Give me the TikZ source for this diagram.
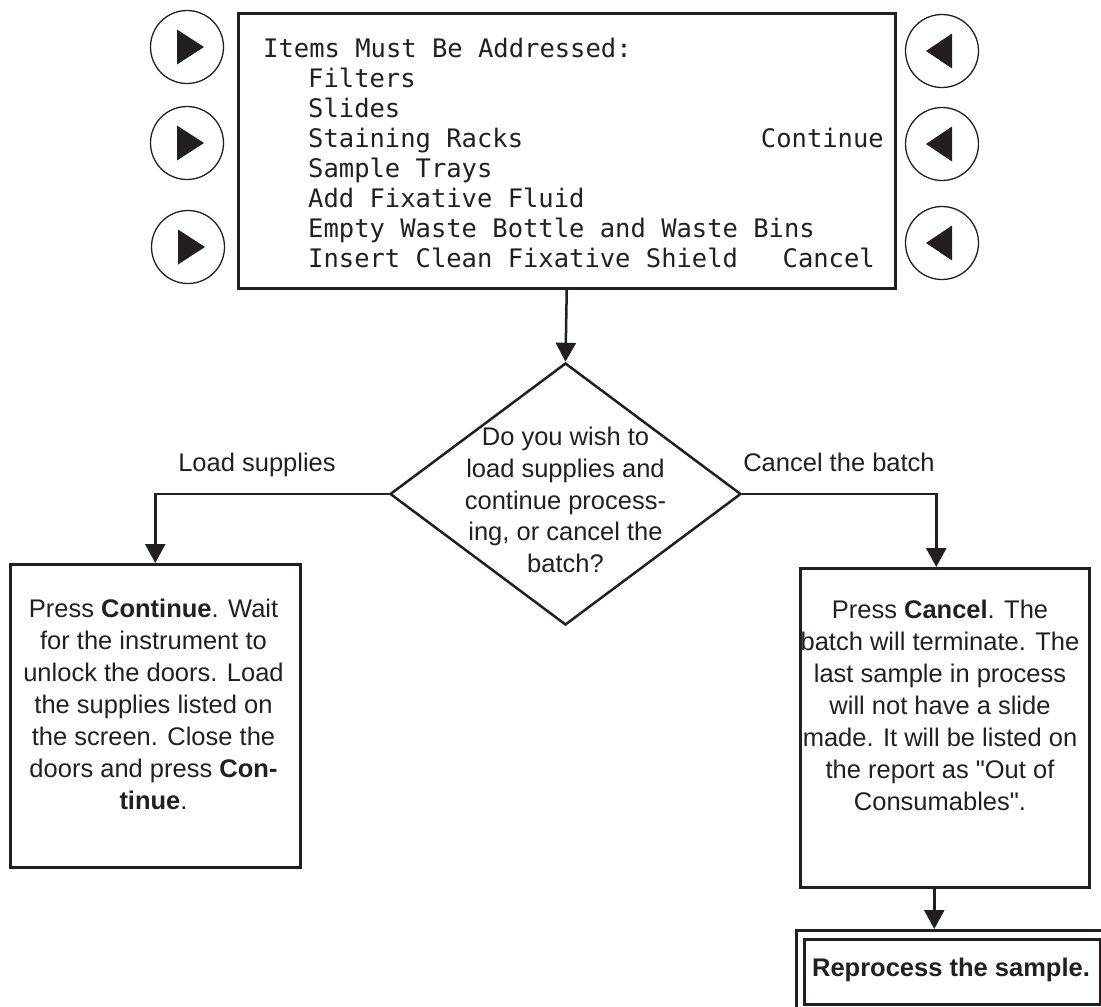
\documentclass[tikz,border=0pt]{standalone}
\usepackage{fontspec}
\setmainfont{Liberation Sans}[Ligatures=TeXOff]
\newfontfamily\scrfont{DejaVu Sans Mono}
\usetikzlibrary{shapes.geometric,arrows.meta}
\definecolor{ink}{HTML}{231F20}
\begin{document}
\begin{tikzpicture}[x=1pt,y=-1pt,
  line/.style={line width=2.5pt, draw=ink},
  arr/.style={line, -{Triangle[width=20pt,length=19pt]}},
  box/.style={draw=ink, line width=2.5pt, inner sep=0, anchor=north west},
  btn/.style={circle, draw=ink, line width=1.3pt, minimum size=73pt, inner sep=0},
  scr/.style={font=\scrfont\fontsize{25.5pt}{30pt}\selectfont, inner sep=0, text=ink},
  txt/.style={font=\fontsize{25.5pt}{32pt}\selectfont, align=center, inner sep=0, text=ink},
  lbl/.style={font=\fontsize{25.5pt}{32pt}\selectfont, inner sep=0, anchor=base, text=ink}
]
\useasboundingbox (0,0) rectangle (1101,1007);

% screen
\node[box, minimum width=657, minimum height=275] (screen) at (237,12) {};
\node[scr, anchor=base west] (s0) at (263,57) {Items Must Be Addressed:};
\node[scr, anchor=base west] (s1) at (308,87) {Filters};
\node[scr, anchor=base west] (s2) at (308,117) {Slides};
\node[scr, anchor=base west] (s3) at (308,147) {Staining Racks};
\node[scr, anchor=base west] (s4) at (308,177) {Sample Trays};
\node[scr, anchor=base west] (s5) at (308,207) {Add Fixative Fluid};
\node[scr, anchor=base west] (s6) at (308,237) {Empty Waste Bottle and Waste Bins};
\node[scr, anchor=base west] (s7) at (308,267) {Insert Clean Fixative Shield};
\node[scr, anchor=base east] (sc) at (884,147) {Continue};
\node[scr, anchor=base east] (sx) at (875,267) {Cancel};

% buttons
\foreach \n/\p in {bl1/{(187,47)}, bl2/{(187,143)}, bl3/{(188,247)}}{
  \node[btn] (\n) at \p {};
  \fill[ink] ([shift={(-10,-17.5)}]\n.center) -- ([shift={(17,0)}]\n.center) -- ([shift={(-10,17.5)}]\n.center) -- cycle;
}
\foreach \n/\p in {br1/{(942,51)}, br2/{(942,144)}, br3/{(942,243)}}{
  \node[btn] (\n) at \p {};
  \fill[ink] ([shift={(10,-17.5)}]\n.center) -- ([shift={(-16,0)}]\n.center) -- ([shift={(10,17.5)}]\n.center) -- cycle;
}

% decision
\node[diamond, draw=ink, line width=2.5pt, minimum width=351, minimum height=262, inner sep=0] (dec) at (565.5,494) {};
\node[txt, font=\fontsize{25.5pt}{31.75pt}\selectfont] (q) at (565.5,500) {Do you wish to\\load supplies and\\continue process-\\ing, or cancel the\\batch?};

% boxes
\node[box, minimum width=290, minimum height=303] (lbox) at (9,563) {};
\node[txt] (ltext) at (153.5,704.5) {Press \textbf{Continue}. Wait\\for the instrument to\\unlock the doors. Load\\the supplies listed on\\the screen. Close the\\doors and press \textbf{Con-}\\\textbf{tinue}.};

\node[box, minimum width=289, minimum height=319] (rbox) at (799,567) {};
\node[txt] (rtext) at (940,705.5) {Press \textbf{Cancel}. The\\batch will terminate. The\\last sample in process\\will not have a slide\\made. It will be listed on\\the report as "Out of\\Consumables".};

\node[box, minimum width=330, minimum height=100] (outer) at (795,929) {};
\node[box, minimum width=296, minimum height=65] (inner) at (803,938) {};
\node[txt, font=\bfseries\fontsize{25.5pt}{32pt}\selectfont] (rtx) at (951,970) {Reprocess the sample.};

% labels
\node[lbl] (lload) at (257,471) {Load supplies};
\node[lbl] (lcanc) at (839,471) {Cancel the batch};

% connectors
\draw[arr] (screen.south) -- (dec.north);
\draw[arr] (dec.west) -| (lbox.north);
\draw[arr] (dec.east) -| ([xshift=-8.5]rbox.north);
\draw[arr] ([xshift=-10.5]rbox.south) -- ([xshift=-10.5]rbox.south |- outer.north);
\end{tikzpicture}
\end{document}
